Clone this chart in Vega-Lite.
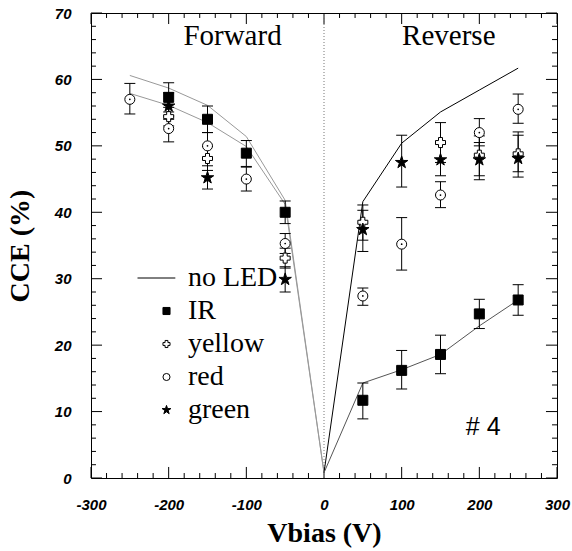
{
  "$schema": "https://vega.github.io/schema/vega-lite/v6.json",
  "width": 466,
  "height": 465,
  "autosize": "none",
  "padding": {"left": 91, "top": 13, "right": 15, "bottom": 73},
  "background": "white",
  "config": {
    "view": {"stroke": "black", "strokeWidth": 1},
    "axis": {"grid": false, "domain": false}
  },
  "datasets": {
    "zero": [{"V": 0, "lo": 0, "hi": 70}],
    "xticks": [
      {"V": -300, "kind": "major"}, {"V": -200, "kind": "major"}, {"V": -100, "kind": "major"}, {"V": 0, "kind": "major"},
      {"V": 100, "kind": "major"}, {"V": 200, "kind": "major"}, {"V": 300, "kind": "major"},
      {"V": -280, "kind": "minor"}, {"V": -260, "kind": "minor"}, {"V": -240, "kind": "minor"}, {"V": -220, "kind": "minor"},
      {"V": -180, "kind": "minor"}, {"V": -160, "kind": "minor"}, {"V": -140, "kind": "minor"}, {"V": -120, "kind": "minor"},
      {"V": -80, "kind": "minor"}, {"V": -60, "kind": "minor"}, {"V": -40, "kind": "minor"}, {"V": -20, "kind": "minor"},
      {"V": 20, "kind": "minor"}, {"V": 40, "kind": "minor"}, {"V": 60, "kind": "minor"}, {"V": 80, "kind": "minor"},
      {"V": 120, "kind": "minor"}, {"V": 140, "kind": "minor"}, {"V": 160, "kind": "minor"}, {"V": 180, "kind": "minor"},
      {"V": 220, "kind": "minor"}, {"V": 240, "kind": "minor"}, {"V": 260, "kind": "minor"}, {"V": 280, "kind": "minor"}
    ],
    "yticks": [
      {"CCE": 0, "kind": "major"}, {"CCE": 10, "kind": "major"}, {"CCE": 20, "kind": "major"}, {"CCE": 30, "kind": "major"},
      {"CCE": 40, "kind": "major"}, {"CCE": 50, "kind": "major"}, {"CCE": 60, "kind": "major"}, {"CCE": 70, "kind": "major"},
      {"CCE": 2, "kind": "minor"}, {"CCE": 4, "kind": "minor"}, {"CCE": 6, "kind": "minor"}, {"CCE": 8, "kind": "minor"},
      {"CCE": 12, "kind": "minor"}, {"CCE": 14, "kind": "minor"}, {"CCE": 16, "kind": "minor"}, {"CCE": 18, "kind": "minor"},
      {"CCE": 22, "kind": "minor"}, {"CCE": 24, "kind": "minor"}, {"CCE": 26, "kind": "minor"}, {"CCE": 28, "kind": "minor"},
      {"CCE": 32, "kind": "minor"}, {"CCE": 34, "kind": "minor"}, {"CCE": 36, "kind": "minor"}, {"CCE": 38, "kind": "minor"},
      {"CCE": 42, "kind": "minor"}, {"CCE": 44, "kind": "minor"}, {"CCE": 46, "kind": "minor"}, {"CCE": 48, "kind": "minor"},
      {"CCE": 52, "kind": "minor"}, {"CCE": 54, "kind": "minor"}, {"CCE": 56, "kind": "minor"}, {"CCE": 58, "kind": "minor"},
      {"CCE": 62, "kind": "minor"}, {"CCE": 64, "kind": "minor"}, {"CCE": 66, "kind": "minor"}, {"CCE": 68, "kind": "minor"}
    ],
    "lines": [
      {"trace": "no LED forward", "V": -250, "CCE": 60.6},
      {"trace": "no LED forward", "V": -200, "CCE": 58.7},
      {"trace": "no LED forward", "V": -150, "CCE": 56.1},
      {"trace": "no LED forward", "V": -100, "CCE": 51.4},
      {"trace": "no LED forward", "V": -50, "CCE": 41.8},
      {"trace": "no LED forward", "V": 0, "CCE": 0.8},
      {"trace": "IR forward", "V": -250, "CCE": 57.9},
      {"trace": "IR forward", "V": -200, "CCE": 56.1},
      {"trace": "IR forward", "V": -150, "CCE": 53.5},
      {"trace": "IR forward", "V": -100, "CCE": 49.9},
      {"trace": "IR forward", "V": -50, "CCE": 41.2},
      {"trace": "IR forward", "V": 0, "CCE": 0.8},
      {"trace": "no LED reverse", "V": 0, "CCE": 0.8},
      {"trace": "no LED reverse", "V": 50, "CCE": 41.6},
      {"trace": "no LED reverse", "V": 100, "CCE": 50.4},
      {"trace": "no LED reverse", "V": 150, "CCE": 55.1},
      {"trace": "no LED reverse", "V": 200, "CCE": 58.4},
      {"trace": "no LED reverse", "V": 250, "CCE": 61.7},
      {"trace": "IR reverse", "V": 0, "CCE": 0.8},
      {"trace": "IR reverse", "V": 50, "CCE": 14.3},
      {"trace": "IR reverse", "V": 100, "CCE": 16.3},
      {"trace": "IR reverse", "V": 150, "CCE": 18.6},
      {"trace": "IR reverse", "V": 200, "CCE": 22.9},
      {"trace": "IR reverse", "V": 250, "CCE": 26.8}
    ],
    "points": [
      {"led": "red", "V": -250, "CCE": 57.0, "lo": 54.8, "hi": 59.4},
      {"led": "red", "V": -200, "CCE": 52.6, "lo": 50.6, "hi": 54.5},
      {"led": "red", "V": -150, "CCE": 50.0, "lo": 48.2, "hi": 52.0},
      {"led": "red", "V": -100, "CCE": 45.0, "lo": 43.2, "hi": 46.8},
      {"led": "red", "V": -50, "CCE": 35.3, "lo": 33.8, "hi": 36.8},
      {"led": "red", "V": 50, "CCE": 27.4, "lo": 26.0, "hi": 28.6},
      {"led": "red", "V": 100, "CCE": 35.2, "lo": 31.3, "hi": 39.2},
      {"led": "red", "V": 150, "CCE": 42.6, "lo": 40.7, "hi": 44.6},
      {"led": "red", "V": 200, "CCE": 52.0, "lo": 50.0, "hi": 54.1},
      {"led": "red", "V": 250, "CCE": 55.5, "lo": 53.4, "hi": 57.8},
      {"led": "yellow", "V": -200, "CCE": 54.4, "lo": 53.0, "hi": 55.8},
      {"led": "yellow", "V": -150, "CCE": 48.1, "lo": 46.3, "hi": 49.9},
      {"led": "yellow", "V": -50, "CCE": 33.1, "lo": 31.6, "hi": 34.6},
      {"led": "yellow", "V": 50, "CCE": 38.5, "lo": 35.8, "hi": 41.1},
      {"led": "yellow", "V": 150, "CCE": 50.5, "lo": 47.5, "hi": 53.5},
      {"led": "yellow", "V": 200, "CCE": 48.6, "lo": 45.5, "hi": 51.5},
      {"led": "yellow", "V": 250, "CCE": 48.8, "lo": 45.3, "hi": 52.1},
      {"led": "IR", "V": -200, "CCE": 57.3, "lo": 55.1, "hi": 59.5},
      {"led": "IR", "V": -150, "CCE": 54.0, "lo": 52.0, "hi": 56.0},
      {"led": "IR", "V": -100, "CCE": 48.9, "lo": 46.9, "hi": 50.8},
      {"led": "IR", "V": -50, "CCE": 40.0, "lo": 38.3, "hi": 41.7},
      {"led": "IR", "V": 50, "CCE": 11.7, "lo": 8.9, "hi": 14.3},
      {"led": "IR", "V": 100, "CCE": 16.2, "lo": 13.4, "hi": 19.2},
      {"led": "IR", "V": 150, "CCE": 18.6, "lo": 15.7, "hi": 21.5},
      {"led": "IR", "V": 200, "CCE": 24.7, "lo": 22.5, "hi": 26.9},
      {"led": "IR", "V": 250, "CCE": 26.8, "lo": 24.5, "hi": 29.1},
      {"led": "green", "V": -200, "CCE": 56.0, "lo": 54.0, "hi": 58.0},
      {"led": "green", "V": -150, "CCE": 45.2, "lo": 43.5, "hi": 47.0},
      {"led": "green", "V": -50, "CCE": 29.9, "lo": 28.0, "hi": 31.8},
      {"led": "green", "V": 50, "CCE": 37.4, "lo": 34.1, "hi": 40.3},
      {"led": "green", "V": 100, "CCE": 47.5, "lo": 43.8, "hi": 51.6},
      {"led": "green", "V": 150, "CCE": 47.9, "lo": 45.5, "hi": 50.3},
      {"led": "green", "V": 200, "CCE": 47.9, "lo": 44.9, "hi": 50.5},
      {"led": "green", "V": 250, "CCE": 48.1, "lo": 46.1, "hi": 51.6}
    ],
    "notes": [
      {"label": "Forward", "kind": "region", "V": -117.8, "CCE": 65.2},
      {"label": "Reverse", "kind": "region", "V": 160.7, "CCE": 65.2},
      {"label": "# 4", "kind": "sample", "V": 205, "CCE": 6.5}
    ]
  },
  "layer": [
    {
      "data": {"name": "lines"},
      "mark": {"type": "point", "opacity": 0},
      "encoding": {
        "x": {"field": "V", "type": "quantitative", "scale": {"domain": [-300, 300], "nice": false, "zero": false},
          "axis": {"orient": "bottom", "values": [-300, -200, -100, 0, 100, 200, 300], "ticks": false, "labelPadding": 19,
            "labelFont": "Liberation Sans", "labelFontSize": 15, "labelFontWeight": "bold", "labelFontStyle": "italic", "labelColor": "black",
            "labelFlush": false, "labelOverlap": false,
            "labelExpr": "datum.value < 0 ? '-' + abs(datum.value) : '' + datum.value",
            "title": "Vbias (V)", "titleFont": "Liberation Serif", "titleFontSize": 28, "titleFontWeight": "bold", "titleColor": "black", "titlePadding": 7}},
        "y": {"field": "CCE", "type": "quantitative", "scale": {"domain": [0, 70], "nice": false, "zero": false},
          "axis": {"orient": "left", "values": [0, 10, 20, 30, 40, 50, 60, 70], "ticks": false, "labelPadding": 20,
            "labelFont": "Liberation Sans", "labelFontSize": 15, "labelFontWeight": "bold", "labelFontStyle": "italic", "labelColor": "black",
            "labelFlush": false, "labelOverlap": false,
            "title": "CCE (%)", "titleFont": "Liberation Serif", "titleFontSize": 28, "titleFontWeight": "bold", "titleColor": "black", "titlePadding": 20}}
      }
    },
    {
      "data": {"name": "xticks"},
      "transform": [{"filter": "datum.kind === 'major'"}],
      "layer": [
        {"mark": {"type": "rule", "stroke": "black", "strokeWidth": 1},
          "encoding": {"x": {"field": "V", "type": "quantitative"}, "y": {"datum": 0}, "y2": {"datum": 1.66}}},
        {"mark": {"type": "rule", "stroke": "black", "strokeWidth": 1},
          "encoding": {"x": {"field": "V", "type": "quantitative"}, "y": {"datum": 70}, "y2": {"datum": 68.34}}}
      ]
    },
    {
      "data": {"name": "xticks"},
      "transform": [{"filter": "datum.kind === 'minor'"}],
      "layer": [
        {"mark": {"type": "rule", "stroke": "black", "strokeWidth": 1},
          "encoding": {"x": {"field": "V", "type": "quantitative"}, "y": {"datum": 0}, "y2": {"datum": 0.75}}},
        {"mark": {"type": "rule", "stroke": "black", "strokeWidth": 1},
          "encoding": {"x": {"field": "V", "type": "quantitative"}, "y": {"datum": 70}, "y2": {"datum": 69.25}}}
      ]
    },
    {
      "data": {"name": "yticks"},
      "transform": [{"filter": "datum.kind === 'major'"}],
      "layer": [
        {"mark": {"type": "rule", "stroke": "black", "strokeWidth": 1},
          "encoding": {"y": {"field": "CCE", "type": "quantitative"}, "x": {"datum": -300}, "x2": {"datum": -285.8}}},
        {"mark": {"type": "rule", "stroke": "black", "strokeWidth": 1},
          "encoding": {"y": {"field": "CCE", "type": "quantitative"}, "x": {"datum": 300}, "x2": {"datum": 285.8}}}
      ]
    },
    {
      "data": {"name": "yticks"},
      "transform": [{"filter": "datum.kind === 'minor'"}],
      "layer": [
        {"mark": {"type": "rule", "stroke": "black", "strokeWidth": 1},
          "encoding": {"y": {"field": "CCE", "type": "quantitative"}, "x": {"datum": -300}, "x2": {"datum": -293.6}}},
        {"mark": {"type": "rule", "stroke": "black", "strokeWidth": 1},
          "encoding": {"y": {"field": "CCE", "type": "quantitative"}, "x": {"datum": 300}, "x2": {"datum": 293.6}}}
      ]
    },
    {
      "data": {"name": "zero"},
      "mark": {"type": "rule", "stroke": "#777777", "strokeWidth": 1, "strokeDash": [1, 2]},
      "encoding": {
        "x": {"field": "V", "type": "quantitative"},
        "y": {"field": "lo", "type": "quantitative"},
        "y2": {"field": "hi"}
      }
    },
    {
      "data": {"name": "lines"},
      "mark": {"type": "line", "strokeWidth": 1},
      "encoding": {
        "x": {"field": "V", "type": "quantitative"},
        "y": {"field": "CCE", "type": "quantitative"},
        "color": {"field": "trace", "type": "nominal", "legend": null,
          "scale": {"domain": ["no LED forward", "IR forward", "no LED reverse", "IR reverse"], "range": ["#999999", "#999999", "#000000", "#555555"]}},
        "order": {"field": "V", "type": "quantitative"}
      }
    },
    {
      "data": {"name": "points"},
      "mark": {"type": "rule", "stroke": "black", "strokeWidth": 1},
      "encoding": {
        "x": {"field": "V", "type": "quantitative"},
        "y": {"field": "lo", "type": "quantitative"},
        "y2": {"field": "hi"}
      }
    },
    {
      "data": {"name": "points"},
      "mark": {"type": "point", "shape": "M-1,0L1,0", "size": 121, "filled": false, "stroke": "black", "strokeWidth": 1, "opacity": 1},
      "encoding": {
        "x": {"field": "V", "type": "quantitative"},
        "y": {"field": "lo", "type": "quantitative"}
      }
    },
    {
      "data": {"name": "points"},
      "mark": {"type": "point", "shape": "M-1,0L1,0", "size": 121, "filled": false, "stroke": "black", "strokeWidth": 1, "opacity": 1},
      "encoding": {
        "x": {"field": "V", "type": "quantitative"},
        "y": {"field": "hi", "type": "quantitative"}
      }
    },
    {
      "data": {"name": "points"},
      "mark": {"type": "point", "filled": true, "strokeWidth": 1, "size": 100, "opacity": 1},
      "encoding": {
        "x": {"field": "V", "type": "quantitative"},
        "y": {"field": "CCE", "type": "quantitative"},
        "shape": {"field": "led", "type": "nominal",
          "scale": {"domain": ["no LED", "IR", "yellow", "red", "green"], "range": ["M-8.2,0L2.5,0", "square", "cross", "circle", "M0,-1.3L0.29,-0.4L1.24,-0.4L0.47,0.15L0.76,1.05L0,0.5L-0.76,1.05L-0.47,0.15L-1.24,-0.4L-0.29,-0.4Z"]},
          "legend": {"title": null, "orient": "none", "legendX": 61.5, "legendY": 251, "direction": "vertical",
            "labelFont": "Liberation Serif", "labelFontSize": 28, "labelColor": "black", "labelOffset": 7.4, "labelLimit": 300,
            "symbolSize": 50, "symbolStrokeWidth": 1, "rowPadding": 5, "padding": 0}},
        "fill": {"field": "led", "type": "nominal",
          "scale": {"domain": ["no LED", "IR", "yellow", "red", "green"], "range": ["transparent", "black", "white", "white", "black"]},
          "legend": {"title": null, "orient": "none", "legendX": 61.5, "legendY": 251, "direction": "vertical",
            "labelFont": "Liberation Serif", "labelFontSize": 28, "labelColor": "black", "labelOffset": 7.4, "labelLimit": 300,
            "symbolSize": 50, "symbolStrokeWidth": 1, "rowPadding": 5, "padding": 0}},
        "stroke": {"field": "led", "type": "nominal",
          "scale": {"domain": ["no LED", "IR", "yellow", "red", "green"], "range": ["black", "black", "black", "black", "black"]},
          "legend": {"title": null, "orient": "none", "legendX": 61.5, "legendY": 251, "direction": "vertical",
            "labelFont": "Liberation Serif", "labelFontSize": 28, "labelColor": "black", "labelOffset": 7.4, "labelLimit": 300,
            "symbolSize": 50, "symbolStrokeWidth": 1, "rowPadding": 5, "padding": 0}}
      }
    },
    {
      "data": {"name": "points"},
      "transform": [{"filter": "datum.led === 'red'"}],
      "mark": {"type": "point", "shape": "circle", "filled": true, "fill": "black", "size": 3, "opacity": 1},
      "encoding": {
        "x": {"field": "V", "type": "quantitative"},
        "y": {"field": "CCE", "type": "quantitative"}
      }
    },
    {
      "data": {"name": "notes"},
      "transform": [{"filter": "datum.kind === 'region'"}],
      "mark": {"type": "text", "font": "Liberation Serif", "fontSize": 29, "align": "center", "baseline": "alphabetic", "fill": "black"},
      "encoding": {
        "x": {"field": "V", "type": "quantitative"},
        "y": {"field": "CCE", "type": "quantitative"},
        "text": {"field": "label"}
      }
    },
    {
      "data": {"name": "notes"},
      "transform": [{"filter": "datum.kind === 'sample'"}],
      "mark": {"type": "text", "font": "Liberation Sans", "fontSize": 25, "align": "center", "baseline": "alphabetic", "fill": "black"},
      "encoding": {
        "x": {"field": "V", "type": "quantitative"},
        "y": {"field": "CCE", "type": "quantitative"},
        "text": {"field": "label"}
      }
    }
  ]
}
